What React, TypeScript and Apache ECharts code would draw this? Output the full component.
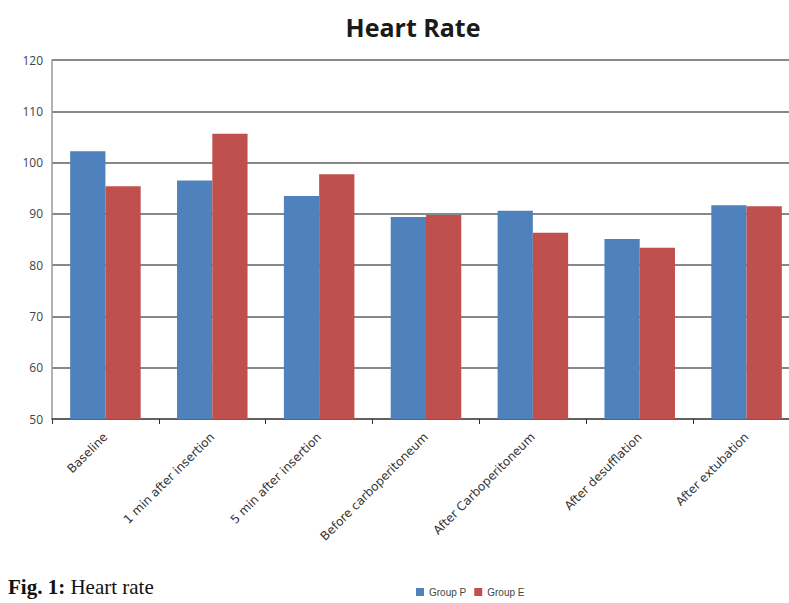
import React, { useEffect, useRef } from "react";
import * as echarts from "echarts";

const categories = [
  "Baseline",
  "1 min after insertion",
  "5 min after insertion",
  "Before carboperitoneum",
  "After Carboperitoneum",
  "After desufflation",
  "After extubation",
];
const groupP = [102.2, 96.5, 93.5, 89.4, 90.6, 85.1, 91.7];
const groupE = [95.4, 105.6, 97.7, 89.8, 86.3, 83.4, 91.5];
const yTicks = { min: 50, max: 120, interval: 10 };

export default function App() {
  const ref = useRef<HTMLDivElement>(null);
  useEffect(() => {
    if (!ref.current) return;
    const chart = echarts.init(ref.current, undefined, { renderer: "svg" });
    chart.setOption({
      animation: false,
      backgroundColor: "#ffffff",
      title: {
        text: "Heart Rate",
        left: 408,
        textAlign: "center",
        top: 9,
        textStyle: { fontFamily: "Open Sans", fontWeight: "bold", fontSize: 25, color: "#1a1a1a" },
      },
      legend: {
        top: 582,
        left: 411,
        itemWidth: 8,
        itemHeight: 8,
        itemGap: 8,
        icon: "rect",
        textStyle: { fontFamily: "Liberation Sans", fontSize: 10, color: "#444" },
        data: ["Group P", "Group E"],
      },
      grid: { left: 52, right: 11, top: 60, bottom: 184, containLabel: false },
      xAxis: {
        type: "category",
        data: categories,
        axisLine: { lineStyle: { color: "#555", width: 1.5 } },
        axisTick: { show: true, length: 5, lineStyle: { color: "#333" } },
        axisLabel: {
          rotate: 45,
          interval: 0,
          margin: 16,
          fontFamily: "DejaVu Sans",
          fontSize: 12,
          color: "#333",
        },
      },
      yAxis: {
        type: "value",
        min: yTicks.min,
        max: yTicks.max,
        interval: yTicks.interval,
        axisLine: { show: true, lineStyle: { color: "#999", width: 1.5 } },
        axisTick: { show: false },
        axisLabel: { margin: 9, fontFamily: "Open Sans", fontSize: 12, color: "#444" },
        splitLine: { lineStyle: { color: "#888", width: 2 } },
      },
      series: [
        {
          name: "Group P",
          type: "bar",
          data: groupP,
          barWidth: "33%",
          barGap: "0%",
          itemStyle: { color: "#4F81BD" },
        },
        {
          name: "Group E",
          type: "bar",
          data: groupE,
          barWidth: "33%",
          itemStyle: { color: "#C0504D" },
        },
      ],
      graphic: [
        {
          type: "text",
          left: 8,
          top: 576,
          style: {
            text: "{b|Fig. 1:} Heart rate",
            rich: {
              b: { fontFamily: "Liberation Serif", fontWeight: "bold", fontSize: 21, fill: "#111" },
            },
            fontFamily: "Liberation Serif",
            fontSize: 21,
            fill: "#111",
          },
        },
      ],
    });
    return () => chart.dispose();
  }, []);
  return (
    <div
      style={{
        position: "fixed",
        left: 0,
        top: 0,
        width: 789,
        height: 603,
        overflow: "hidden",
      }}
    >
      <div ref={ref} style={{ width: 811, height: 603 }} />
    </div>
  );
}
